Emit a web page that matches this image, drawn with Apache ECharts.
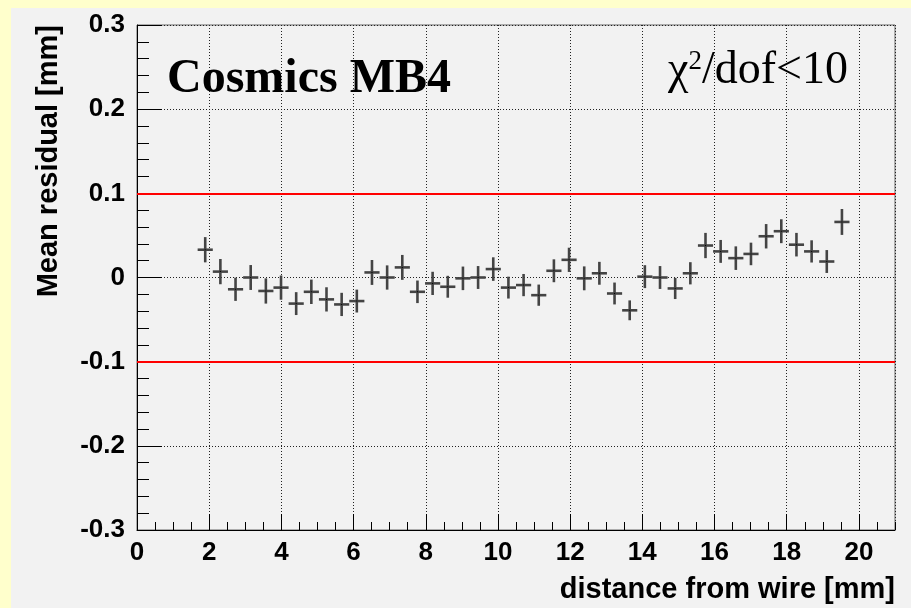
<!DOCTYPE html>
<html>
<head>
<meta charset="utf-8">
<script src="https://cdn.jsdelivr.net/npm/echarts@6/dist/echarts.min.js"></script>
<style>
  html, body { margin: 0; padding: 0; background: #ffffcc; }
  #chart { position: absolute; left: 11px; top: 8px; width: 900px; height: 600px; }
</style>
</head>
<body>
<div id="chart"></div>
<script>
// Bin centres of the distance-from-wire histogram [mm]
const binCenters = [
  1.89, 2.31, 2.73, 3.15, 3.57, 3.99, 4.41, 4.83, 5.25, 5.67, 6.09, 6.51, 6.93,
  7.35, 7.77, 8.19, 8.61, 9.03, 9.45, 9.87, 10.29, 10.71, 11.13, 11.55, 11.97,
  12.39, 12.81, 13.23, 13.65, 14.07, 14.49, 14.91, 15.33, 15.75, 16.17, 16.59,
  17.01, 17.43, 17.85, 18.27, 18.69, 19.11, 19.53
];
// Mean residual per bin [mm]
const meanResidual = [
  0.033, 0.007, -0.014, 0.000, -0.016, -0.012, -0.031, -0.017, -0.026, -0.032, -0.028, 0.006, 0.000,
  0.012, -0.017, -0.007, -0.011, -0.001, 0.000, 0.010, -0.012, -0.009, -0.021, 0.008, 0.021,
  -0.001, 0.005, -0.019, -0.039, 0.001, 0.000, -0.013, 0.005, 0.038, 0.031, 0.023,
  0.028, 0.049, 0.055, 0.039, 0.031, 0.019, 0.066
];
// Error on the mean residual [mm]
const residualError = [
  0.0150, 0.0150, 0.0138, 0.0148, 0.0150, 0.0144, 0.0136, 0.0145, 0.0144, 0.0138, 0.0136, 0.0148, 0.0144,
  0.0148, 0.0134, 0.0138, 0.0130, 0.0140, 0.0136, 0.0140, 0.0130, 0.0132, 0.0126, 0.0136, 0.0144,
  0.0142, 0.0136, 0.0130, 0.0118, 0.0136, 0.0136, 0.0126, 0.0132, 0.0150, 0.0136, 0.0140,
  0.0134, 0.0145, 0.0142, 0.0140, 0.0132, 0.0136, 0.0154
];
// Half width of a histogram bin [mm]
const binHalfWidth = 0.21;
// Tolerance band [mm]
const toleranceLines = [0.1, -0.1];

const xTickLabels = ['0', '2', '4', '6', '8', '10', '12', '14', '16', '18', '20'];
const yTickLabels = ['-0.3', '-0.2', '-0.1', '0', '0.1', '0.2', '0.3'];

const points = binCenters.map((x, i) => [x, meanResidual[i], residualError[i]]);

const sans = 'Liberation Sans, Arial, Helvetica, sans-serif';
const serif = 'Liberation Serif, Times New Roman, serif';

const chart = echarts.init(document.getElementById('chart'), null, { renderer: 'canvas' });

chart.setOption({
  backgroundColor: '#f2f2f2',
  animation: false,
  grid: {
    left: 126, top: 17, right: 16, bottom: 78,
    show: true, backgroundColor: '#f2f2f2', borderColor: '#666', borderWidth: 1
  },
  xAxis: [
    {
      type: 'value', min: 0, max: 21, interval: 2, position: 'bottom',
      axisLine: { show: true, onZero: false, lineStyle: { color: '#000', width: 1 } },
      axisTick: { show: true, inside: true, length: 16, lineStyle: { color: '#000', width: 1 } },
      axisLabel: {
        showMaxLabel: false, margin: 10, color: '#000', fontSize: 26, fontWeight: 'bold', fontFamily: sans,
        formatter: v => {
          const s = String(Math.round(v));
          return xTickLabels.indexOf(s) >= 0 ? s : '';
        }
      },
      splitLine: { show: true, lineStyle: { color: '#222', width: 1, type: [1, 2] } }
    },
    {
      // finer tick marks every 0.5 mm
      type: 'value', min: 0, max: 21, interval: 0.5, position: 'bottom',
      axisLine: { show: false, onZero: false },
      axisTick: { show: true, inside: true, length: 8, lineStyle: { color: '#000', width: 1 } },
      axisLabel: { show: false },
      splitLine: { show: false }
    }
  ],
  yAxis: {
    type: 'value', min: -0.3, max: 0.3, interval: 0.1,
    axisLine: { show: true, onZero: false, lineStyle: { color: '#000', width: 1 } },
    axisTick: { show: true, inside: true, length: 25, lineStyle: { color: '#000', width: 1 } },
    minorTick: { show: true, splitNumber: 5, length: 12, lineStyle: { color: '#000', width: 1 } },
    axisLabel: {
      margin: 12, color: '#000', fontSize: 26, fontWeight: 'bold', fontFamily: sans,
      formatter: v => {
        const idx = Math.round((v + 0.3) / 0.1);
        return yTickLabels[idx] !== undefined ? yTickLabels[idx] : '';
      }
    },
    splitLine: { show: true, lineStyle: { color: '#222', width: 1, type: [1, 2] } }
  },
  series: [
    {
      type: 'line', data: [], silent: true, z: 3,
      markLine: {
        silent: true, symbol: 'none', animation: false,
        label: { show: false },
        lineStyle: { color: '#ff0000', width: 2, type: 'solid' },
        data: toleranceLines.map(v => ({ yAxis: v }))
      }
    },
    {
      type: 'custom', xAxisIndex: 0, yAxisIndex: 0, z: 4,
      data: points,
      encode: { x: 0, y: 1 },
      renderItem: (params, api) => {
        const x = api.value(0), y = api.value(1), e = api.value(2);
        const l = api.coord([x - binHalfWidth, y]);
        const r = api.coord([x + binHalfWidth, y]);
        const t = api.coord([x, y + e]);
        const b = api.coord([x, y - e]);
        const c = api.coord([x, y]);
        const st = { stroke: '#444', lineWidth: 2.6, lineCap: 'butt' };
        return {
          type: 'group',
          children: [
            { type: 'line', shape: { x1: l[0], y1: l[1], x2: r[0], y2: r[1] }, style: st },
            { type: 'line', shape: { x1: t[0], y1: t[1], x2: b[0], y2: b[1] }, style: st },
            { type: 'rect', shape: { x: c[0] - 0.5, y: c[1] - 0.5, width: 1, height: 1 }, style: { fill: '#000' } }
          ]
        };
      }
    }
  ],
  graphic: [
    {
      type: 'text', x: 156, y: 72, z: 10,
      style: { text: 'Cosmics MB4', fill: '#000', font: 'bold 48px ' + serif, textAlign: 'left', textVerticalAlign: 'middle' }
    },
    {
      type: 'text', x: 657, y: 40, z: 10,
      style: {
        text: '{a|χ}{s|2}{a|/dof<10}',
        textAlign: 'left', textVerticalAlign: 'top',
        rich: {
          a: { fontFamily: serif, fontSize: 46, lineHeight: 46, fill: '#000', verticalAlign: 'bottom' },
          s: { fontFamily: serif, fontSize: 27, lineHeight: 27, fill: '#000', verticalAlign: 'top' }
        }
      }
    },
    {
      type: 'text', x: 38, y: 17, rotation: Math.PI / 2, z: 10,
      style: { text: 'Mean residual [mm]', fill: '#000', font: 'bold 29px ' + sans, textAlign: 'right', textVerticalAlign: 'middle' }
    },
    {
      type: 'text', x: 884, y: 582, z: 10,
      style: { text: 'distance from wire [mm]', fill: '#000', font: 'bold 29px ' + sans, textAlign: 'right', textVerticalAlign: 'middle' }
    }
  ]
});
</script>
</body>
</html>
